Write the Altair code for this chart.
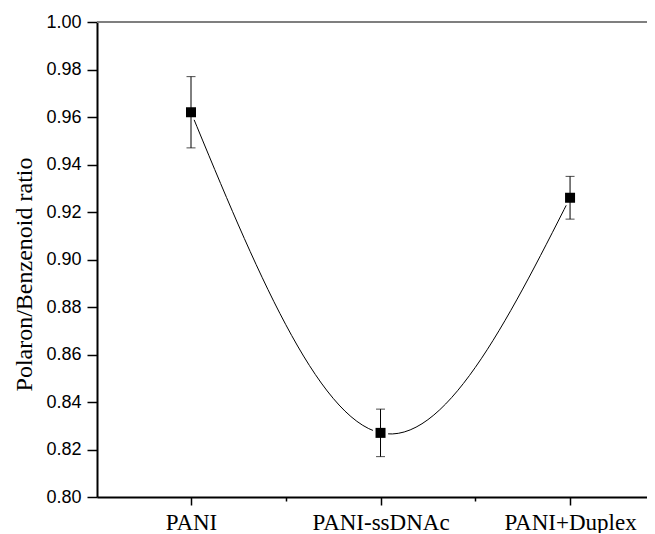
import altair as alt
import pandas as pd

categories = ["PANI", "PANI-ssDNAc", "PANI+Duplex"]
positions = [0, 1, 2]
ratio = [0.962, 0.827, 0.926]
err = [0.015, 0.010, 0.009]

df = pd.DataFrame({
    "pos": positions,
    "cat": categories,
    "ratio": ratio,
    "lo": [r - e for r, e in zip(ratio, err)],
    "hi": [r + e for r, e in zip(ratio, err)],
})

label_expr = " : ".join(
    f"datum.value == {p} ? '{c}'" for p, c in zip(positions, categories)
) + " : ''"

y_ticks = [round(0.80 + 0.01 * i, 2) for i in range(21)]
x_ticks = [0, 0.5, 1, 1.5, 2]

x_scale = alt.Scale(domain=[-0.496, 2.406], nice=False, zero=False)
y_scale = alt.Scale(domain=[0.80, 1.00], nice=False, zero=False)

x_axis = alt.Axis(
    values=x_ticks,
    labelExpr=label_expr,
    title=None,
    grid=False,
    tickSize={"condition": {"test": "datum.value % 1 == 0", "value": 8}, "value": 4},
    tickColor="black",
    tickWidth=1.5,
    domainColor="black",
    domainWidth=2,
    labelFont="Liberation Serif",
    labelFontSize=23,
    labelColor="black",
    labelBaseline="alphabetic",
    labelPadding=24,
    labelFlush=False,
    labelOverlap=False,
)

y_axis = alt.Axis(
    values=y_ticks,
    labelExpr="round(datum.value*100) % 2 == 0 ? format(datum.value, '.2f') : ''",
    title="Polaron/Benzenoid ratio",
    grid=False,
    tickSize={"condition": {"test": "round(datum.value*100) % 2 == 0", "value": 10}, "value": 6},
    tickColor="black",
    tickWidth=1.5,
    domainColor="black",
    domainWidth=2,
    labelFont="Liberation Sans",
    labelFontSize=18,
    labelColor="black",
    labelPadding=6,
    labelOverlap=False,
    labelFlush=False,
    titleFont="Liberation Serif",
    titleFontSize=24,
    titleFontWeight="normal",
    titleColor="black",
    titleAngle=270,
    titleBaseline="alphabetic",
    titleAlign="center",
    titleX=-66,
    titleY=252,
)

base = alt.Chart(df)

line = base.mark_line(interpolate="natural", color="black", strokeWidth=1).encode(
    x=alt.X("pos:Q", scale=x_scale, axis=x_axis),
    y=alt.Y("ratio:Q", scale=y_scale, axis=y_axis),
)

halo = base.mark_square(size=230, color="white", opacity=1).encode(
    x=alt.X("pos:Q", scale=x_scale),
    y=alt.Y("ratio:Q", scale=y_scale),
)

bars = base.mark_rule(color="black", strokeWidth=1).encode(
    x=alt.X("pos:Q", scale=x_scale),
    y=alt.Y("lo:Q", scale=y_scale),
    y2="hi:Q",
)

cap_hi = base.mark_tick(color="black", thickness=1, size=9, orient="horizontal").encode(
    x=alt.X("pos:Q", scale=x_scale),
    y=alt.Y("hi:Q", scale=y_scale),
)
cap_lo = base.mark_tick(color="black", thickness=1, size=9, orient="horizontal").encode(
    x=alt.X("pos:Q", scale=x_scale),
    y=alt.Y("lo:Q", scale=y_scale),
)

points = base.mark_square(size=100, color="black", opacity=1).encode(
    x=alt.X("pos:Q", scale=x_scale),
    y=alt.Y("ratio:Q", scale=y_scale),
)

top_border = alt.Chart(pd.DataFrame({"top": [1.0]})).mark_rule(
    color="#7f7f7f", strokeWidth=2
).encode(y=alt.Y("top:Q", scale=y_scale))

chart = alt.layer(top_border, line, halo, bars, cap_hi, cap_lo, points).properties(
    width=550,
    height=475,
    autosize=alt.AutoSizeParams(type="none"),
    padding={"left": 89, "top": 14, "right": 0, "bottom": 36},
).configure_view(stroke=None).configure(background="white")

chart.save("out.html", embed_options={"renderer": "svg", "actions": False})
